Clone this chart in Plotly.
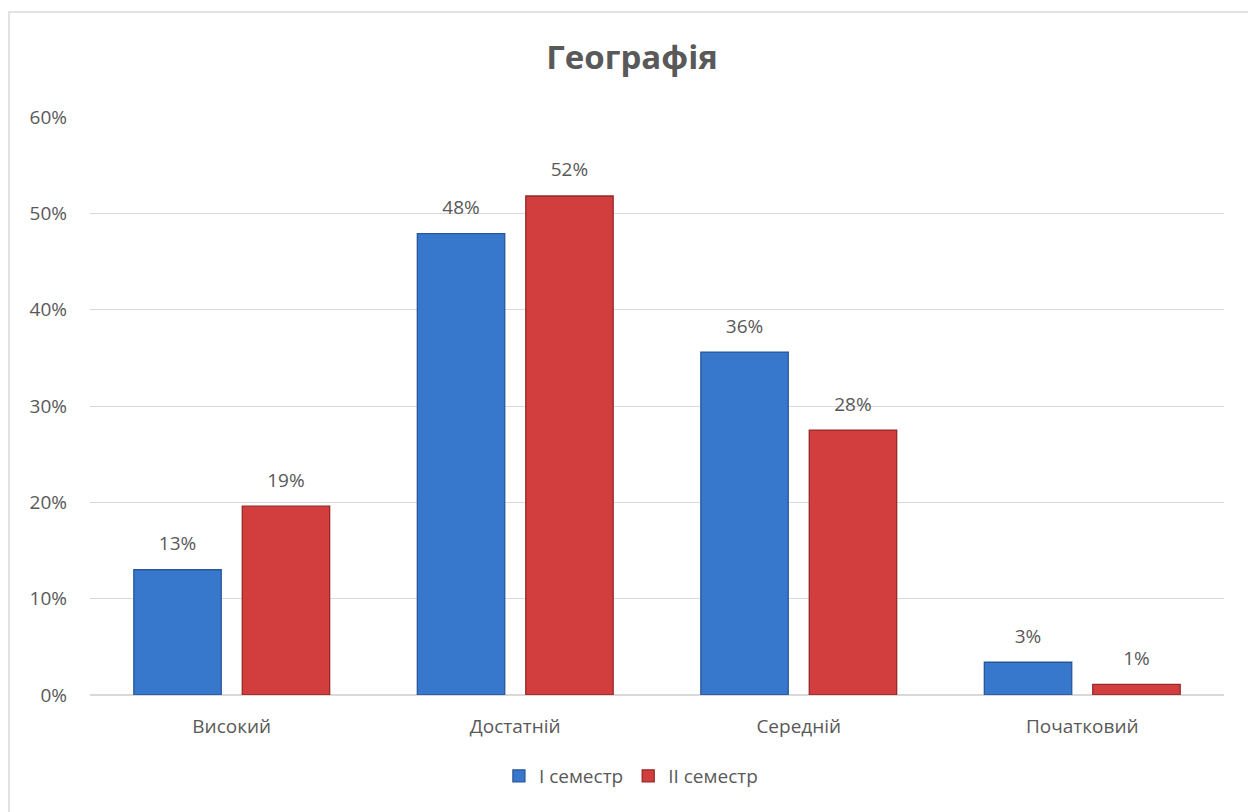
import plotly.graph_objects as go

categories = ["Високий", "Достатній", "Середній", "Початковий"]
sem1 = [0.130, 0.479, 0.356, 0.034]
sem2 = [0.196, 0.518, 0.275, 0.011]
sem1_labels = ["13%", "48%", "36%", "3%"]
sem2_labels = ["19%", "52%", "28%", "1%"]
y_ticks = [0, 0.1, 0.2, 0.3, 0.4, 0.5, 0.6]
y_tick_labels = ["0%", "10%", "20%", "30%", "40%", "50%", "60%"]

FONT = "'Open Sans', sans-serif"
GREY = "#595959"
FS = 19
OFF = 8  # browser body margin

fig = go.Figure()
series = [
    ("I семестр", sem1, sem1_labels, "#3878cc", "#28569a"),
    ("II семестр", sem2, sem2_labels, "#d23d3d", "#962828"),
]
for name, vals, labels, col, edge in series:
    fig.add_trace(go.Bar(
        name=name, x=categories, y=vals,
        marker=dict(color=col, line=dict(color=edge, width=1.3)),
    ))
for name, vals, labels, col, edge in series:
    fig.add_trace(go.Scatter(
        x=categories, y=vals, text=labels, mode="markers+text",
        textposition="top center", showlegend=False, hoverinfo="skip",
        marker=dict(size=22, opacity=0),
        textfont=dict(size=FS, color=GREY, family=FONT),
        cliponaxis=False,
    ))

W, H = 1256 - OFF, 812 - OFF
L, R, T, B = 90 - OFF, 1256 - 1224, 117 - OFF, H - (695 - OFF)
fig.update_layout(
    width=W, height=H,
    margin=dict(l=L, r=R, t=T, b=B, autoexpand=False),
    paper_bgcolor="white", plot_bgcolor="white",
    barmode="group", bargap=0.235, bargroupgap=0.194,
    scattermode="group", scattergap=0.235,
    font=dict(family=FONT, color=GREY, size=FS),
    title=dict(text="<b>Географія</b>", x=0.5, xanchor="center",
               y=1 - (57 - OFF) / H, yanchor="middle",
               font=dict(size=33, color=GREY, family=FONT)),
    legend=dict(orientation="h", x=0.477, xanchor="center",
                yref="container", y=1 - (776 - OFF) / H, yanchor="middle",
                bgcolor="rgba(0,0,0,0)",
                font=dict(size=FS, color=GREY, family=FONT), itemwidth=30,
                traceorder="normal"),
    showlegend=True,
)
fig.update_yaxes(range=[0, 0.6], tickvals=y_ticks, ticktext=y_tick_labels,
                 showgrid=True, gridcolor="#d9d9d9", gridwidth=1.2,
                 zeroline=True, zerolinecolor="#d9d9d9", zerolinewidth=1.5,
                 showline=False, ticks="", ticklabelstandoff=22,
                 tickfont=dict(size=FS, color=GREY), automargin=False)
fig.update_xaxes(showgrid=False, showline=False, ticks="",
                 tickfont=dict(size=FS, color=GREY), ticklabelstandoff=18,
                 automargin=False)

# chart border
pw, ph = W - L - R, H - T - B
fig.add_shape(type="rect", xref="paper", yref="paper",
              x0=(9 - 90) / pw, x1=(1252 - 90) / pw,
              y0=(695 - 830) / ph, y1=(695 - 12) / ph,
              line=dict(color="#d9d9d9", width=1.5), fillcolor="rgba(0,0,0,0)", layer="below")

fig.write_html("out.html")
